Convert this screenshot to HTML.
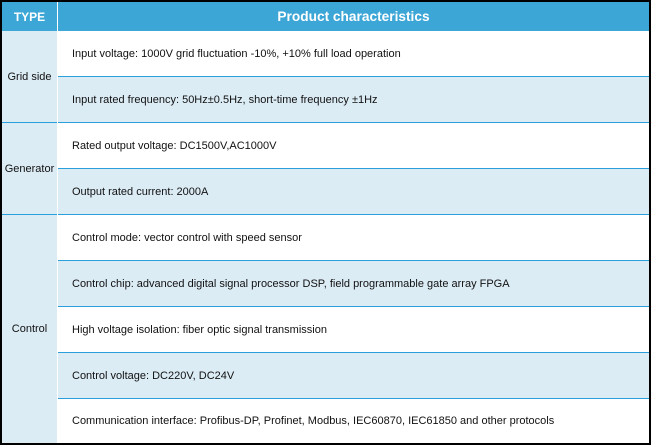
<!DOCTYPE html>
<html>
<head>
<meta charset="utf-8">
<style>
  html, body { margin:0; padding:0; background:#fff; }
  body { width:653px; height:447px; position:relative; overflow:hidden;
         font-family:"Liberation Sans", Arial, sans-serif; }
  .abs { position:absolute; }
  .frame { left:0; top:0; width:647px; height:441px; border:2px solid #000; }
  .hdr { top:2px; height:29px; background:#3ca6d6; color:#fff; font-weight:bold;
         display:flex; align-items:center; justify-content:center; }
  .col1 { left:2px; width:55px; background:#dcecf5; }
  .row { left:58px; width:591px; height:46px; display:flex; align-items:center;
         font-size:11px; color:#111; box-sizing:border-box; padding-left:14px; }
  .blue { background:#dcecf5; }
  .line { height:1px; background:#2a9fdb; }
  .lbl { left:2px; width:55px; font-size:11px; color:#111; text-align:center;
         display:flex; align-items:center; justify-content:center; }
</style>
</head>
<body>
  <!-- header -->
  <div class="abs hdr" style="left:2px;width:55px;font-size:12px;">TYPE</div>
  <div class="abs hdr" style="left:58px;width:591px;font-size:13.7px;">Product characteristics</div>

  <!-- first column background -->
  <div class="abs col1" style="top:31px;height:412px;"></div>

  <!-- rows -->
  <div class="abs row" style="top:31px;height:45px;">Input voltage: 1000V grid fluctuation -10%, +10% full load operation</div>
  <div class="abs row blue" style="top:77px;height:45px;">Input rated frequency: 50Hz±0.5Hz, short-time frequency ±1Hz</div>
  <div class="abs row" style="top:123px;height:45px;">Rated output voltage: DC1500V,AC1000V</div>
  <div class="abs row blue" style="top:169px;height:45px;">Output rated current: 2000A</div>
  <div class="abs row" style="top:215px;height:45px;">Control mode: vector control with speed sensor</div>
  <div class="abs row blue" style="top:261px;height:45px;">Control chip: advanced digital signal processor DSP, field programmable gate array FPGA</div>
  <div class="abs row" style="top:307px;height:45px;">High voltage isolation: fiber optic signal transmission</div>
  <div class="abs row blue" style="top:353px;height:45px;">Control voltage: DC220V, DC24V</div>
  <div class="abs row" style="top:399px;height:44px;">Communication interface: Profibus-DP, Profinet, Modbus, IEC60870, IEC61850 and other protocols</div>

  <!-- row lines (column 2) -->
  <div class="abs line" style="left:58px;width:591px;top:76px;"></div>
  <div class="abs line" style="left:2px;width:647px;top:122px;"></div>
  <div class="abs line" style="left:58px;width:591px;top:168px;"></div>
  <div class="abs line" style="left:2px;width:647px;top:214px;"></div>
  <div class="abs line" style="left:58px;width:591px;top:260px;"></div>
  <div class="abs line" style="left:58px;width:591px;top:306px;"></div>
  <div class="abs line" style="left:58px;width:591px;top:352px;"></div>
  <div class="abs line" style="left:58px;width:591px;top:398px;"></div>

  <!-- vertical white divider -->
  <div class="abs" style="left:57px;top:2px;width:1px;height:441px;background:#fff;"></div>

  <!-- labels -->
  <div class="abs lbl" style="top:31px;height:91px;">Grid side</div>
  <div class="abs lbl" style="top:123px;height:91px;">Generator</div>
  <div class="abs lbl" style="top:215px;height:228px;">Control</div>

  <!-- outer frame -->
  <div class="abs frame"></div>
</body>
</html>
